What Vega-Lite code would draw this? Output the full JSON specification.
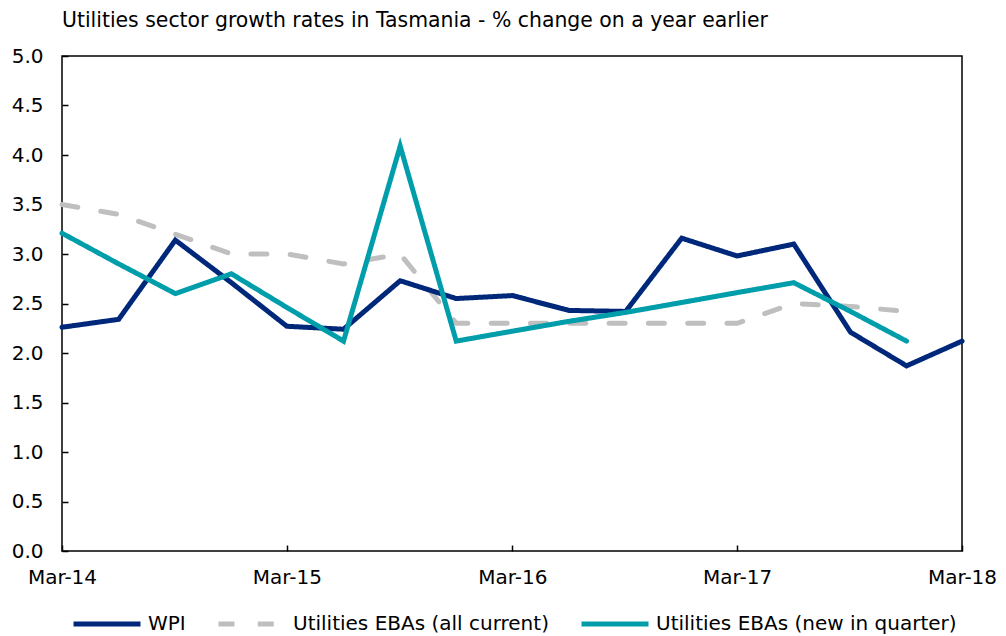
{
  "$schema": "https://vega.github.io/schema/vega-lite/v6.json",
  "width": 900,
  "height": 495,
  "autosize": {"type": "none"},
  "padding": {"left": 62, "top": 56, "right": 44, "bottom": 85},
  "background": "#ffffff",
  "title": {
    "text": "Utilities sector growth rates in Tasmania - % change on a year earlier",
    "anchor": "start",
    "frame": "group",
    "font": "DejaVu Sans",
    "fontSize": 20.4,
    "fontWeight": "normal",
    "color": "#000000",
    "offset": 15
  },
  "config": {
    "view": {"stroke": "#000000", "strokeWidth": 1.5},
    "font": "DejaVu Sans",
    "axis": {
      "grid": false,
      "domain": false,
      "ticks": true,
      "tickColor": "#000000",
      "tickWidth": 1.5,
      "tickSize": -6,
      "labelFont": "DejaVu Sans",
      "labelFontSize": 20,
      "labelColor": "#000000",
      "title": null
    },
    "legend": {
      "labelFont": "DejaVu Sans",
      "labelFontSize": 20,
      "labelColor": "#000000",
      "labelLimit": 0
    }
  },
  "data": {
    "values": [
      {"date": "2014-03-01", "series": "Utilities EBAs (all current)", "value": 3.5},
      {"date": "2014-06-01", "series": "Utilities EBAs (all current)", "value": 3.4},
      {"date": "2014-09-01", "series": "Utilities EBAs (all current)", "value": 3.2},
      {"date": "2014-12-01", "series": "Utilities EBAs (all current)", "value": 3.0},
      {"date": "2015-03-01", "series": "Utilities EBAs (all current)", "value": 3.0},
      {"date": "2015-06-01", "series": "Utilities EBAs (all current)", "value": 2.9},
      {"date": "2015-09-01", "series": "Utilities EBAs (all current)", "value": 3.0},
      {"date": "2015-12-01", "series": "Utilities EBAs (all current)", "value": 2.3},
      {"date": "2016-03-01", "series": "Utilities EBAs (all current)", "value": 2.3},
      {"date": "2016-06-01", "series": "Utilities EBAs (all current)", "value": 2.3},
      {"date": "2016-09-01", "series": "Utilities EBAs (all current)", "value": 2.3},
      {"date": "2016-12-01", "series": "Utilities EBAs (all current)", "value": 2.3},
      {"date": "2017-03-01", "series": "Utilities EBAs (all current)", "value": 2.3},
      {"date": "2017-06-01", "series": "Utilities EBAs (all current)", "value": 2.5},
      {"date": "2017-09-01", "series": "Utilities EBAs (all current)", "value": 2.47},
      {"date": "2017-12-01", "series": "Utilities EBAs (all current)", "value": 2.42},
      {"date": "2014-03-01", "series": "WPI", "value": 2.26},
      {"date": "2014-06-01", "series": "WPI", "value": 2.34},
      {"date": "2014-09-01", "series": "WPI", "value": 3.14},
      {"date": "2014-12-01", "series": "WPI", "value": 2.71},
      {"date": "2015-03-01", "series": "WPI", "value": 2.27},
      {"date": "2015-06-01", "series": "WPI", "value": 2.24},
      {"date": "2015-09-01", "series": "WPI", "value": 2.73},
      {"date": "2015-12-01", "series": "WPI", "value": 2.55},
      {"date": "2016-03-01", "series": "WPI", "value": 2.58},
      {"date": "2016-06-01", "series": "WPI", "value": 2.43},
      {"date": "2016-09-01", "series": "WPI", "value": 2.42},
      {"date": "2016-12-01", "series": "WPI", "value": 3.16},
      {"date": "2017-03-01", "series": "WPI", "value": 2.98},
      {"date": "2017-06-01", "series": "WPI", "value": 3.1},
      {"date": "2017-09-01", "series": "WPI", "value": 2.21},
      {"date": "2017-12-01", "series": "WPI", "value": 1.87},
      {"date": "2018-03-01", "series": "WPI", "value": 2.12},
      {"date": "2014-03-01", "series": "Utilities EBAs (new in quarter)", "value": 3.21},
      {"date": "2014-06-01", "series": "Utilities EBAs (new in quarter)", "value": 2.9},
      {"date": "2014-09-01", "series": "Utilities EBAs (new in quarter)", "value": 2.6},
      {"date": "2014-12-01", "series": "Utilities EBAs (new in quarter)", "value": 2.8},
      {"date": "2015-03-01", "series": "Utilities EBAs (new in quarter)", "value": 2.46},
      {"date": "2015-06-01", "series": "Utilities EBAs (new in quarter)", "value": 2.12},
      {"date": "2015-09-01", "series": "Utilities EBAs (new in quarter)", "value": 4.09},
      {"date": "2015-12-01", "series": "Utilities EBAs (new in quarter)", "value": 2.12},
      {"date": "2016-03-01", "series": "Utilities EBAs (new in quarter)", "value": 2.22},
      {"date": "2016-06-01", "series": "Utilities EBAs (new in quarter)", "value": 2.32},
      {"date": "2016-09-01", "series": "Utilities EBAs (new in quarter)", "value": 2.41},
      {"date": "2016-12-01", "series": "Utilities EBAs (new in quarter)", "value": 2.51},
      {"date": "2017-03-01", "series": "Utilities EBAs (new in quarter)", "value": 2.61},
      {"date": "2017-06-01", "series": "Utilities EBAs (new in quarter)", "value": 2.71},
      {"date": "2017-09-01", "series": "Utilities EBAs (new in quarter)", "value": 2.42},
      {"date": "2017-12-01", "series": "Utilities EBAs (new in quarter)", "value": 2.12}
    ]
  },
  "mark": {"type": "line", "strokeWidth": 5, "strokeCap": "round", "strokeJoin": "miter"},
  "encoding": {
    "x": {
      "field": "date",
      "type": "temporal",
      "scale": {"type": "utc", "domain": [{"year": 2014, "month": 3, "date": 1, "utc": true}, {"year": 2018, "month": 3, "date": 1, "utc": true}]},
      "axis": {
        "values": [
          {"year": 2014, "month": 3, "date": 1, "utc": true},
          {"year": 2015, "month": 3, "date": 1, "utc": true},
          {"year": 2016, "month": 3, "date": 1, "utc": true},
          {"year": 2017, "month": 3, "date": 1, "utc": true},
          {"year": 2018, "month": 3, "date": 1, "utc": true}
        ],
        "labelExpr": "utcFormat(datum.value, '%b-%y')",
        "labelFlush": false,
        "labelOverlap": false,
        "labelPadding": 22
      }
    },
    "y": {
      "field": "value",
      "type": "quantitative",
      "scale": {"domain": [0, 5], "nice": false, "zero": true},
      "axis": {
        "values": [0, 0.5, 1, 1.5, 2, 2.5, 3, 3.5, 4, 4.5, 5],
        "format": ".1f",
        "labelPadding": 25
      }
    },
    "color": {
      "field": "series",
      "type": "nominal",
      "scale": {
        "domain": ["WPI", "Utilities EBAs (all current)", "Utilities EBAs (new in quarter)"],
        "range": ["#00287A", "#BFBFBF", "#009DAA"]
      },
      "legend": {
        "title": null,
        "orient": "none",
        "direction": "horizontal",
        "legendX": 9,
        "legendY": 532,
        "padding": 0,
        "symbolType": "stroke",
        "symbolSize": 4489,
        "symbolStrokeWidth": 5,
        "labelOffset": 5,
        "labelLimit": 0,
        "columnPadding": 22
      }
    },
    "strokeDash": {
      "field": "series",
      "type": "nominal",
      "scale": {
        "domain": ["WPI", "Utilities EBAs (all current)", "Utilities EBAs (new in quarter)"],
        "range": [[1, 0], [16, 23.3], [1, 0]]
      },
      "legend": {
        "title": null,
        "orient": "none",
        "direction": "horizontal",
        "legendX": 9,
        "legendY": 532,
        "padding": 0,
        "symbolType": "stroke",
        "symbolSize": 4489,
        "symbolStrokeWidth": 5,
        "labelOffset": 5,
        "labelLimit": 0,
        "columnPadding": 22
      }
    }
  }
}
